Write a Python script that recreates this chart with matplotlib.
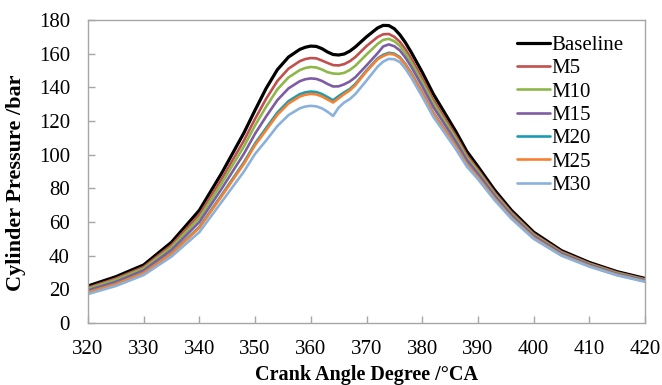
import matplotlib
matplotlib.use("Agg")
import matplotlib.pyplot as plt

angle = [320, 325, 330, 335, 340, 344, 348, 350, 352, 354, 356, 358, 359, 360, 361, 362, 363, 364,
         365, 366, 367, 368, 370, 372, 373, 374, 375, 376, 377, 378, 380, 382, 384, 386, 388, 390,
         393, 396, 400, 405, 410, 415, 420]

baseline = [22.0, 27.5, 34.5, 48.0, 67.0, 89.0, 113.0, 126.5, 139.5, 150.5, 158.0, 162.5, 163.8, 164.5,
            164.3, 163.0, 161.0, 159.5, 159.2, 159.8, 161.5, 164.0, 170.0, 175.3, 176.8, 176.7, 174.8,
            171.2, 166.5, 161.0, 149.0, 136.0, 125.0, 114.0, 102.0, 93.0, 79.0, 67.0, 54.0, 43.0,
            36.0, 30.5, 26.5]

m5 = [21.0, 26.4, 33.3, 46.3, 64.4, 85.6, 108.4, 121.3, 133.3, 143.8, 151.1, 155.5, 156.8, 157.4,
      157.2, 155.9, 154.5, 153.2, 153.0, 153.8, 155.5, 158.0, 164.5, 169.9, 171.5, 171.7, 170.0,
      167.0, 162.6, 157.3, 145.4, 132.6, 122.0, 111.4, 99.8, 91.1, 77.5, 65.8, 53.0, 42.3, 35.4,
      30.0, 26.0]

m10 = [20.3, 25.6, 32.4, 45.0, 62.4, 83.0, 104.9, 117.4, 128.6, 138.8, 145.9, 150.2, 151.5, 152.1,
       151.8, 150.6, 149.0, 148.2, 148.0, 148.6, 150.3, 152.8, 159.5, 165.8, 168.2, 168.8, 167.4,
       164.6, 160.2, 155.0, 143.2, 130.6, 120.2, 109.8, 98.4, 90.0, 76.6, 65.0, 52.4, 41.8, 35.0,
       29.6, 25.7]

m15 = [19.4, 24.5, 31.3, 43.4, 60.0, 79.8, 100.6, 112.5, 122.8, 132.4, 139.4, 143.6, 144.8, 145.3,
       145.0, 143.8, 142.0, 140.5, 140.6, 141.8, 143.5, 146.0, 153.0, 160.3, 164.3, 165.5, 164.4,
       161.9, 157.6, 152.4, 140.7, 128.3, 118.2, 108.0, 96.9, 88.7, 75.6, 64.1, 51.7, 41.3, 34.6,
       29.2, 25.4]

m20 = [18.4, 23.3, 29.9, 41.5, 57.1, 76.1, 95.5, 106.7, 115.9, 125.0, 131.8, 135.9, 137.0, 137.5,
       137.2, 136.0, 134.2, 132.3, 134.8, 137.0, 139.0, 142.0, 150.0, 157.2, 159.3, 160.5, 160.0,
       157.9, 153.8, 148.7, 137.1, 124.9, 115.2, 105.4, 94.6, 86.8, 74.1, 62.9, 50.7, 40.5, 34.0,
       28.7, 24.9]

m25 = [18.2, 23.1, 29.7, 41.2, 56.6, 75.4, 94.6, 105.7, 114.7, 123.7, 130.4, 134.5, 135.6, 136.1,
       135.8, 134.6, 132.8, 131.0, 133.5, 136.0, 138.2, 141.3, 149.5, 156.7, 158.6, 159.9, 159.5,
       157.4, 153.3, 148.2, 136.7, 124.5, 114.8, 105.1, 94.3, 86.6, 73.9, 62.7, 50.6, 40.4, 33.9,
       28.6, 24.8]

m30 = [17.2, 22.0, 28.5, 39.5, 54.0, 72.0, 90.0, 100.5, 108.5, 117.0, 123.5, 127.5, 128.6, 129.0,
       128.7, 127.5, 125.5, 123.0, 128.0, 131.0, 133.0, 136.0, 144.0, 152.3, 155.3, 156.9, 156.7,
       155.0, 151.0, 146.0, 134.5, 122.5, 113.0, 103.5, 93.0, 85.5, 73.0, 62.0, 50.0, 40.0, 33.5,
       28.3, 24.5]

labels = ["Baseline", "M5", "M10", "M15", "M20", "M25", "M30"]
series = [baseline, m5, m10, m15, m20, m25, m30]
colors = ["#000000", "#C0504D", "#8DB849", "#7E5CA4", "#1A9CB4", "#F68030", "#8AB1DC"]
widths = [2.3, 1.9, 1.9, 1.9, 1.9, 1.9, 1.9]

x_ticks = [320, 330, 340, 350, 360, 370, 380, 390, 400, 410, 420]
y_ticks = [0, 20, 40, 60, 80, 100, 120, 140, 160, 180]

serif = ["Liberation Serif", "DejaVu Serif"]
plt.rcParams["font.family"] = serif

fig = plt.figure(figsize=(6.62, 3.85), dpi=100)
ax = fig.add_axes([88 / 662, 62 / 385, 557 / 662, 303 / 385])

for lab, s, c, w in zip(labels, series, colors, widths):
    ax.plot(angle, s, color=c, lw=w, label=lab, solid_capstyle="round", solid_joinstyle="round")

ax.set_xlim(320, 420)
ax.set_ylim(0, 180)
ax.set_xticks(x_ticks)
ax.set_yticks(y_ticks)
ax.tick_params(direction="in", length=5, width=1, color="#A6A6A6", labelsize=15)
ax.tick_params(axis="y", pad=13)
ax.tick_params(axis="x", pad=12)
for sp in ax.spines.values():
    sp.set_color("#A6A6A6")
    sp.set_linewidth(1.0)

ax.set_xlabel("Crank Angle Degree /°CA", fontsize=14.5, fontweight="bold")
ax.set_ylabel("Cylinder Pressure /bar", fontsize=16, fontweight="bold")
ax.xaxis.set_label_coords(0.5, -0.137)
ax.yaxis.set_label_coords(-0.111, 0.464)

leg = ax.legend(loc="upper left", bbox_to_anchor=(0.7697, 0.949),
                frameon=False, fontsize=15, handlelength=1.6, handletextpad=0.08,
                labelspacing=0.18, borderpad=0, borderaxespad=0)

fig.savefig("out.png", dpi=100)
